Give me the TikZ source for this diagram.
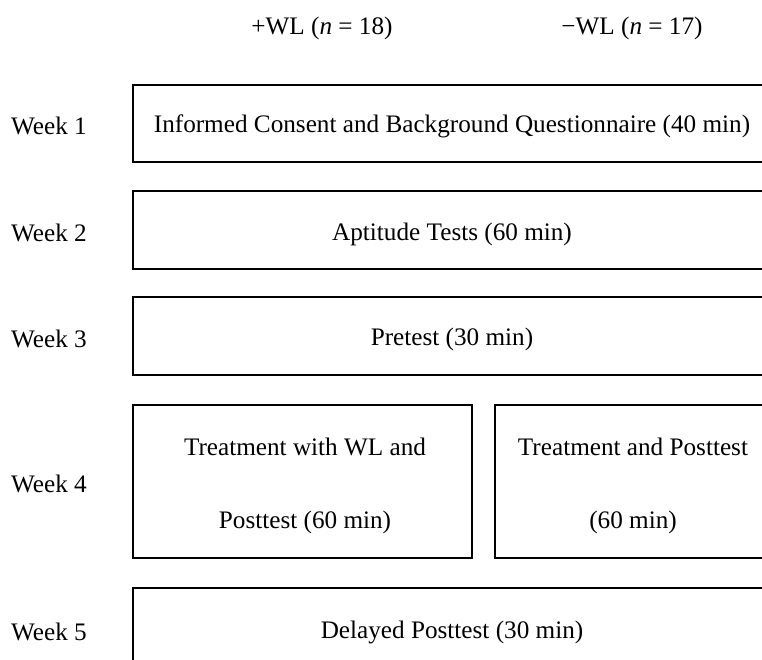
\documentclass[tikz,border=0pt]{standalone}
\usepackage{fontspec}
\setmainfont{Liberation Serif}
\begin{document}
\begin{tikzpicture}[x=1pt,y=-1pt,
  lbl/.style={font=\fontsize{25.2}{30}\selectfont, inner sep=0pt},
  weeklbl/.style={lbl, anchor=west},
  box/.style={draw=black, line width=1.8pt, inner sep=0pt}]
  \useasboundingbox (0,0) rectangle (762,659);
  \clip (0,0) rectangle (762,659);
  % group headers
  \node[lbl] (hplus) at (322,28) {+WL (\textit{n} = 18)};
  \node[lbl] (hminus) at (632,28) {−WL (\textit{n} = 17)};
  % week labels
  \node[weeklbl] (w1) at (11,126) {Week 1};
  \node[weeklbl] (w2) at (11,233) {Week 2};
  \node[weeklbl] (w3) at (11,339) {Week 3};
  \node[weeklbl] (w4) at (11,484) {Week 4};
  \node[weeklbl] (w5) at (11,632) {Week 5};
  % shared sessions
  \node[box, minimum width=638, minimum height=77] (b1) at (452,123.5) {};
  \node[lbl] (t1) at (452,126) {Informed Consent and Background Questionnaire (40 min)};
  \node[box, minimum width=638, minimum height=78] (b2) at (452,230) {};
  \node[lbl] (t2) at (452,234) {Aptitude Tests (60 min)};
  \node[box, minimum width=638, minimum height=78] (b3) at (452,336) {};
  \node[lbl] (t3) at (452,339) {Pretest (30 min)};
  % treatment split by group
  \node[box, minimum width=339, minimum height=153] (b4l) at (302.5,481.5) {};
  \node[lbl] (t4la) at (305,447) {Treatment with WL and};
  \node[lbl] (t4lb) at (305,522) {Posttest (60 min)};
  \node[box, minimum width=276, minimum height=153] (b4r) at (633,481.5) {};
  \node[lbl] (t4ra) at (633,447) {Treatment and Posttest};
  \node[lbl] (t4rb) at (633,522) {(60 min)};
  % delayed posttest
  \node[box, minimum width=638, minimum height=77] (b5) at (452,626.5) {};
  \node[lbl] (t5) at (452,632) {Delayed Posttest (30 min)};
\end{tikzpicture}
\end{document}
